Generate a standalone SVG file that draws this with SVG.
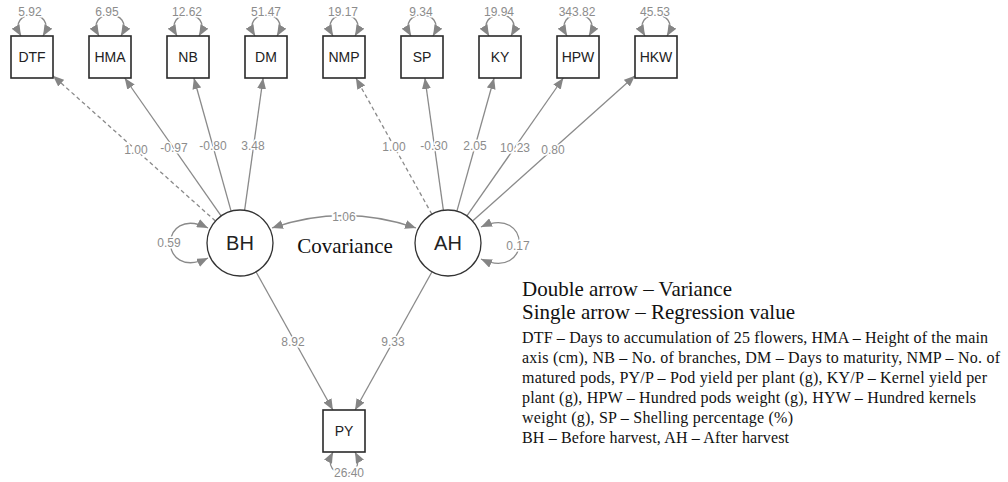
<svg xmlns="http://www.w3.org/2000/svg" width="1008" height="482" viewBox="0 0 1008 482">
<defs>
<marker id="ah" viewBox="0 0 11 9" refX="11" refY="4.5" markerWidth="11" markerHeight="9" markerUnits="userSpaceOnUse" orient="auto-start-reverse">
<path d="M0,0 L11,4.5 L0,9 z" fill="#858585"/>
</marker>
<style>
.e{fill:none;stroke:#8a8a8a;stroke-width:1.3}
.d{stroke-dasharray:4,3}
.lb{font-family:"Liberation Sans",Arial,sans-serif;font-size:12px;fill:#8c8c8c;text-anchor:middle;stroke:#fff;stroke-width:3;paint-order:stroke}
.box{fill:#fff;stroke:#2a2a2a;stroke-width:1.6}
.cir{fill:#fff;stroke:#333;stroke-width:1.3}
.nt{font-family:"Liberation Sans",Arial,sans-serif;font-size:14px;fill:#222;text-anchor:middle}
.lt{font-family:"Liberation Sans",Arial,sans-serif;font-size:20px;fill:#222;text-anchor:middle}
.sr{font-family:"Liberation Serif","Times New Roman",serif;fill:#111}
</style>
</defs>
<rect width="1008" height="482" fill="#fff"/>

<g id="connectors">
<line class="e d" x1="215.4" y1="221" x2="53" y2="75.8" marker-end="url(#ah)"/>
<line class="e" x1="221.1" y1="215.9" x2="124.7" y2="78" marker-end="url(#ah)"/>
<line class="e" x1="231.1" y1="211.2" x2="193.9" y2="78" marker-end="url(#ah)"/>
<line class="e" x1="244.6" y1="210.3" x2="263.1" y2="78" marker-end="url(#ah)"/>
<line class="e d" x1="431.9" y1="214.2" x2="355.9" y2="78" marker-end="url(#ah)"/>
<line class="e" x1="443.4" y1="210.3" x2="424.9" y2="78" marker-end="url(#ah)"/>
<line class="e" x1="456.9" y1="211.2" x2="494.1" y2="78" marker-end="url(#ah)"/>
<line class="e" x1="466.9" y1="215.9" x2="563.3" y2="78" marker-end="url(#ah)"/>
<line class="e" x1="472.6" y1="221" x2="635" y2="75.8" marker-end="url(#ah)"/>
<line class="e" x1="256" y1="271.8" x2="332.9" y2="410" marker-end="url(#ah)"/>
<line class="e" x1="432" y1="271.8" x2="355.1" y2="410" marker-end="url(#ah)"/>
<path class="e" d="M272,228 Q344,203 416,228" marker-start="url(#ah)" marker-end="url(#ah)"/>
<path class="e" d="M208,228 C158,204 158,282 208,258" marker-start="url(#ah)" marker-end="url(#ah)"/>
<path class="e" d="M481,227 C532,204 532,282 481,259" marker-start="url(#ah)" marker-end="url(#ah)"/>
<path class="e" d="M21,36 C5,8 59,8 43,36" marker-start="url(#ah)" marker-end="url(#ah)"/>
<path class="e" d="M99,36 C83,8 137,8 121,36" marker-start="url(#ah)" marker-end="url(#ah)"/>
<path class="e" d="M177,36 C161,8 215,8 199,36" marker-start="url(#ah)" marker-end="url(#ah)"/>
<path class="e" d="M255,36 C239,8 293,8 277,36" marker-start="url(#ah)" marker-end="url(#ah)"/>
<path class="e" d="M333,36 C317,8 371,8 355,36" marker-start="url(#ah)" marker-end="url(#ah)"/>
<path class="e" d="M411,36 C395,8 449,8 433,36" marker-start="url(#ah)" marker-end="url(#ah)"/>
<path class="e" d="M489,36 C473,8 527,8 511,36" marker-start="url(#ah)" marker-end="url(#ah)"/>
<path class="e" d="M567,36 C551,8 605,8 589,36" marker-start="url(#ah)" marker-end="url(#ah)"/>
<path class="e" d="M645,36 C629,8 683,8 667,36" marker-start="url(#ah)" marker-end="url(#ah)"/>
<path class="e" d="M333,452 C318,481 370,481 355,452" marker-start="url(#ah)" marker-end="url(#ah)"/>

<text class="lb" x="136" y="154">1.00</text>
<text class="lb" x="174" y="152">-0.97</text>
<text class="lb" x="213" y="150">-0.80</text>
<text class="lb" x="253" y="150">3.48</text>
<text class="lb" x="394" y="151">1.00</text>
<text class="lb" x="434" y="150">-0.30</text>
<text class="lb" x="475" y="150">2.05</text>
<text class="lb" x="515" y="152">10.23</text>
<text class="lb" x="553" y="154">0.80</text>
<text class="lb" x="293" y="346">8.92</text>
<text class="lb" x="393" y="346">9.33</text>
<text class="lb" x="344" y="221">1.06</text>
<text class="lb" x="169" y="247">0.59</text>
<text class="lb" x="518" y="250">0.17</text>
<text class="lb" x="30" y="16">5.92</text>
<text class="lb" x="107" y="16">6.95</text>
<text class="lb" x="187" y="16">12.62</text>
<text class="lb" x="266" y="16">51.47</text>
<text class="lb" x="343" y="16">19.17</text>
<text class="lb" x="421" y="16">9.34</text>
<text class="lb" x="499" y="16">19.94</text>
<text class="lb" x="577" y="16">343.82</text>
<text class="lb" x="655" y="16">45.53</text>
<text class="lb" x="349" y="477">26.40</text>
</g>

<g id="DTF"><rect class="box" x="11" y="36" width="42" height="42"/><text class="nt" x="32" y="62">DTF</text></g>
<g id="HMA"><rect class="box" x="89" y="36" width="42" height="42"/><text class="nt" x="110" y="62">HMA</text></g>
<g id="NB"><rect class="box" x="167" y="36" width="42" height="42"/><text class="nt" x="188" y="62">NB</text></g>
<g id="DM"><rect class="box" x="245" y="36" width="42" height="42"/><text class="nt" x="266" y="62">DM</text></g>
<g id="NMP"><rect class="box" x="323" y="36" width="42" height="42"/><text class="nt" x="344" y="62">NMP</text></g>
<g id="SP"><rect class="box" x="401" y="36" width="42" height="42"/><text class="nt" x="422" y="62">SP</text></g>
<g id="KY"><rect class="box" x="479" y="36" width="42" height="42"/><text class="nt" x="500" y="62">KY</text></g>
<g id="HPW"><rect class="box" x="557" y="36" width="42" height="42"/><text class="nt" x="578" y="62">HPW</text></g>
<g id="HKW"><rect class="box" x="635" y="36" width="42" height="42"/><text class="nt" x="656" y="62">HKW</text></g>
<g id="BH"><circle class="cir" cx="240" cy="243" r="33"/><text class="lt" x="240" y="250">BH</text></g>
<g id="AH"><circle class="cir" cx="448" cy="243" r="33"/><text class="lt" x="448" y="250">AH</text></g>
<g id="PY"><rect class="box" x="323" y="410" width="42" height="42"/><text class="nt" x="344" y="436" font-size="13">PY</text></g>

<text class="sr" x="345" y="253" font-size="21" text-anchor="middle">Covariance</text>

<g id="legend" class="sr">
<text x="522" y="296" font-size="21" textLength="210" lengthAdjust="spacingAndGlyphs">Double arrow – Variance</text>
<text x="522" y="319" font-size="21" textLength="273" lengthAdjust="spacingAndGlyphs">Single arrow – Regression value</text>
<text x="522" y="343" font-size="16" textLength="466" lengthAdjust="spacing">DTF – Days to accumulation of 25 flowers, HMA – Height of the main</text>
<text x="522" y="363" font-size="16" textLength="478" lengthAdjust="spacing">axis (cm), NB – No. of branches, DM – Days to maturity,  NMP – No. of</text>
<text x="522" y="383" font-size="16" textLength="465" lengthAdjust="spacing">matured pods, PY/P – Pod yield per plant (g), KY/P – Kernel  yield per</text>
<text x="522" y="403" font-size="16" textLength="454" lengthAdjust="spacing">plant (g), HPW – Hundred pods weight (g), HYW – Hundred kernels</text>
<text x="522" y="423" font-size="16" textLength="271" lengthAdjust="spacing">weight (g), SP – Shelling percentage (%)</text>
<text x="522" y="443" font-size="16" textLength="267" lengthAdjust="spacing">BH – Before harvest, AH – After harvest</text>
</g>
</svg>
